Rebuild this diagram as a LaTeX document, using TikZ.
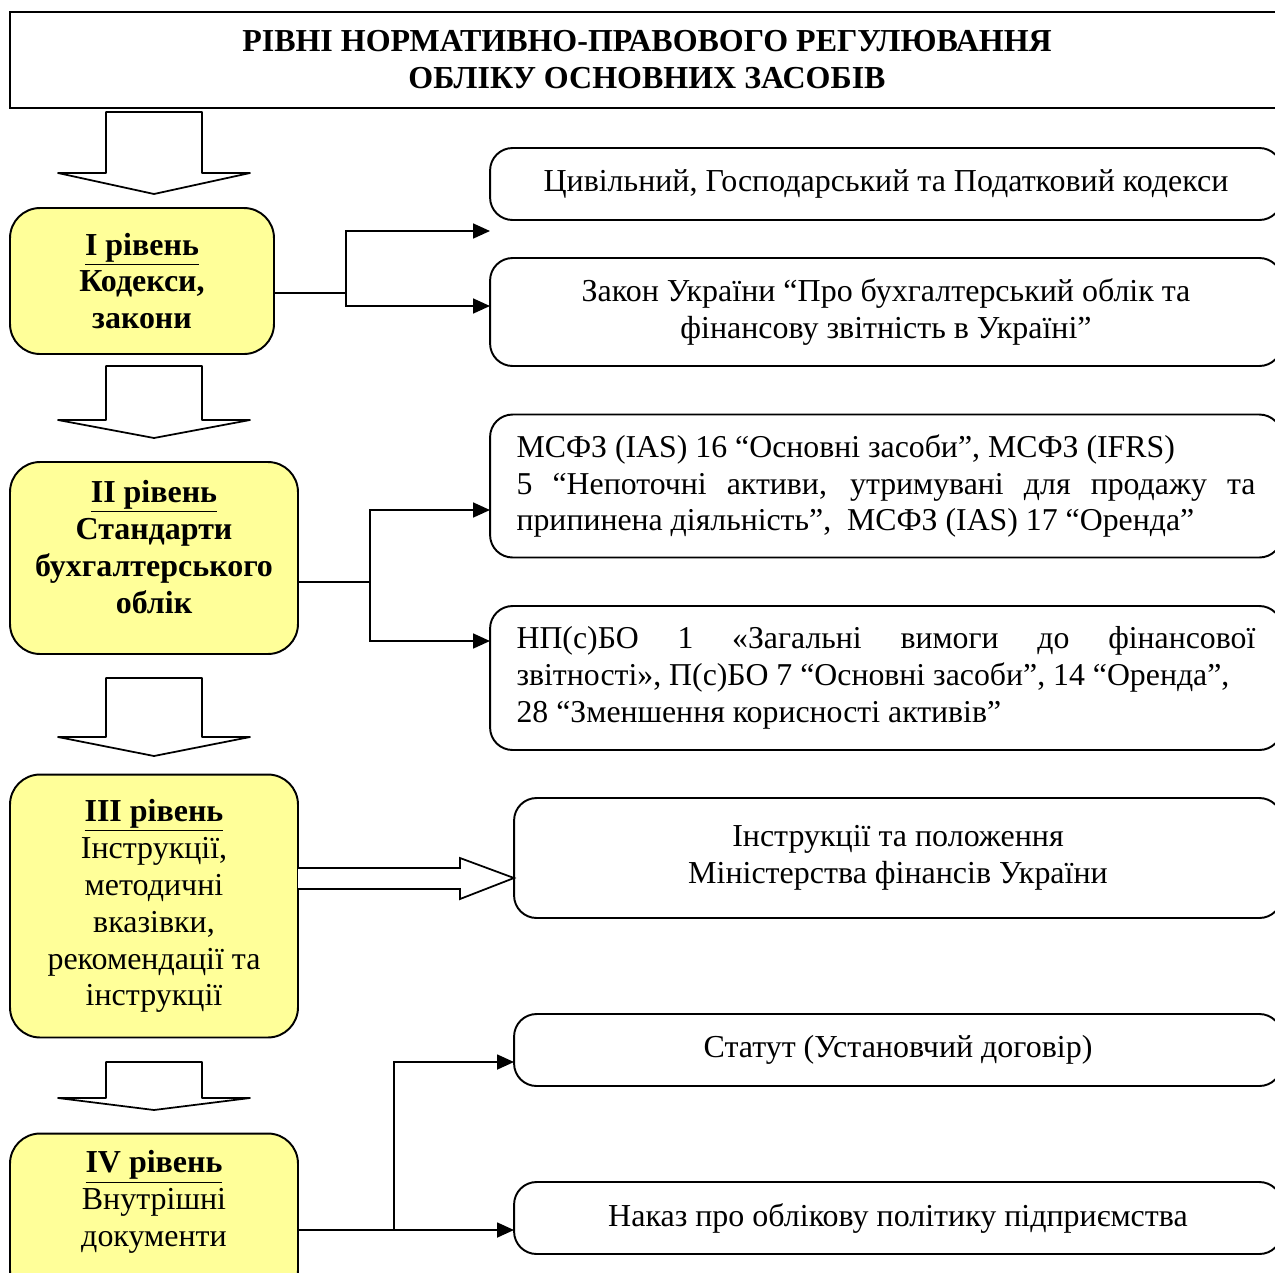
\documentclass[tikz,border=0pt]{standalone}
\usepackage{fontspec}
\setmainfont{Liberation Serif}
\usetikzlibrary{arrows.meta}
\definecolor{lvlyellow}{RGB}{255,255,153}

\begin{document}
\begin{tikzpicture}[x=0.02cm,y=-0.02cm,
  every node/.style={font=\fontsize{18.2}{21}\selectfont},
  level/.style={draw,line width=1.1pt,fill=lvlyellow,rounded corners=0.6cm,align=center,minimum width=5.76cm},
  doc/.style={draw,line width=1.1pt,rounded corners=0.45cm,align=center},
  longdoc/.style={doc,minimum width=15.84cm,text width=14.78cm,align=justify,font=\fontsize{18.1}{21}\selectfont},
  conn/.style={line width=1pt,-{Triangle[length=0.34cm,width=0.3cm]}},
  blockarr/.style={draw,line width=1pt,line join=round,fill=white}]

\useasboundingbox (0,0) rectangle (1275,1272);
\clip (0,0) rectangle (1275,1272);

% title
\node[draw,line width=1.1pt,minimum width=25.48cm,minimum height=1.92cm,align=center,
  font=\bfseries\fontsize{18.2}{21}\selectfont] (title) at (647,60)
  {РІВНІ НОРМАТИВНО-ПРАВОВОГО РЕГУЛЮВАННЯ\\ОБЛІКУ ОСНОВНИХ ЗАСОБІВ};

% levels
\node[level,minimum width=5.28cm,minimum height=2.92cm] (lvl1) at (142,281)
  {\underline{\textbf{I рівень}}\\\textbf{Кодекси,}\\\textbf{закони}};
\node[level,minimum height=3.84cm] (lvl2) at (154,558)
  {\underline{\textbf{II рівень}}\\\textbf{Стандарти}\\\textbf{бухгалтерського}\\\textbf{облік}\\[-8pt]\mbox{}};
\node[level,minimum height=5.26cm] (lvl3) at (154,906)
  {\underline{\textbf{III рівень}}\\Інструкції,\\методичні\\вказівки,\\рекомендації та\\інструкції};
\node[level,minimum height=3.34cm] (lvl4) at (154,1217)
  {\underline{\textbf{IV рівень}}\\Внутрішні\\документи\\\phantom{x}};

% big arrows between levels
\foreach \t/\b/\p in {112/173/194,366/420/438,678/737/756,1062/1098/1110}
  \draw[blockarr] (106,\t) -- (202,\t) -- (202,\b) -- (250,\b) -- (154,\p)
    -- (58,\b) -- (106,\b) -- cycle;

% documents
\node[doc,minimum width=15.84cm,minimum height=1.44cm] (kodeksy) at (886,184)
  {Цивільний, Господарський та Податковий кодекси};
\node[doc,minimum width=15.84cm,minimum height=2.16cm] (zakon) at (886,312)
  {Закон України “Про бухгалтерський облік та\\фінансову звітність в Україні”};
\node[longdoc,minimum height=2.86cm] (msfz) at (886,486)
  {МСФЗ (IAS) 16 “Основні засоби”, МСФЗ (IFRS)\\
   5 “Непоточні активи, утримувані для продажу та\linebreak
   припинена діяльність”,\ \ МСФЗ (IAS) 17 “Оренда”};
\node[longdoc,minimum height=2.88cm] (npsbo) at (886,678)
  {НП(с)БО 1 «Загальні вимоги до фінансової\linebreak
   звітності», П(с)БО 7 “Основні засоби”, 14 “Оренда”,\\
   28 “Зменшення корисності активів”};
\node[doc,minimum width=15.36cm,minimum height=2.4cm] (minfin) at (898,858)
  {Інструкції та положення\\Міністерства фінансів України};
\node[doc,minimum width=15.36cm,minimum height=1.44cm] (statut) at (898,1050)
  {Статут (Установчий договір)};
\node[doc,minimum width=15.36cm,minimum height=1.44cm] (nakaz) at (898,1218)
  {Наказ про облікову політику підприємства};

% connectors
\coordinate (j1) at (346,293);
\coordinate (t1a) at (490,231);
\coordinate (t1b) at (490,306);
\draw[line width=1pt] (lvl1.east |- j1) -- (j1);
\draw[conn] (j1) |- (t1a);
\draw[conn] (j1) |- (t1b);

\coordinate (j2) at (370,582);
\coordinate (t2a) at (490,510);
\coordinate (t2b) at (490,641);
\draw[line width=1pt] (lvl2.east |- j2) -- (j2);
\draw[conn] (j2) |- (t2a);
\draw[conn] (j2) |- (t2b);

\coordinate (j4) at (394,1230);
\coordinate (t4a) at (514,1062);
\coordinate (t4b) at (514,1230);
\draw[line width=1pt] (lvl4.east |- j4) -- (j4);
\draw[conn] (j4) |- (t4a);
\draw[conn] (j4) |- (t4b);

% hollow arrow level III
\draw[line width=1pt,fill=white] (298,868) -- (460,868) -- (460,858) -- (514,878)
  -- (460,899) -- (460,889) -- (298,889);

\end{tikzpicture}
\end{document}
